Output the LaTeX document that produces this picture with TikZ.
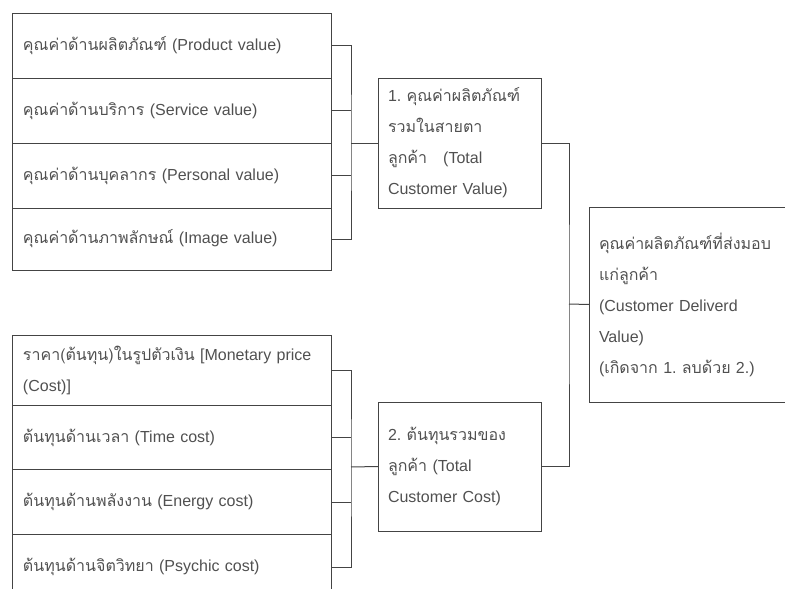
\documentclass[tikz,border=0pt]{standalone}
\usepackage{fontspec}
\setmainfont{Liberation Sans}
\newfontfamily\thaifont[Script=Thai]{Loma}
\newcommand{\thaitx}[1]{{\thaifont #1}}
\usetikzlibrary{positioning}
\definecolor{linegray}{HTML}{444444}
\definecolor{textgray}{HTML}{505050}
\frenchspacing

\begin{document}
\begin{tikzpicture}[x=1pt,y=-1pt,
    every node/.style={font=\fontsize{16}{31}\selectfont, text=textgray, outer sep=0pt},
    row/.style={draw=linegray, line width=1pt, anchor=north west, text width=297pt,
        inner sep=11pt, align=left, minimum height=#1},
    sumbox/.style={draw=linegray, line width=1pt, anchor=north west, align=left,
        inner xsep=10pt, inner ysep=0pt, minimum height=#1},
    link/.style={draw=linegray, line width=1pt}]
    \useasboundingbox (0,0) rectangle (785,589);

    % value side
    \node[row=65pt] (v1) at (12,13) {\thaitx{คุณค่าด้านผลิตภัณฑ์} (Product value)};
    \node[row=65pt, below=0pt of v1] (v2) {\thaitx{คุณค่าด้านบริการ} (Service value)};
    \node[row=65pt, below=0pt of v2] (v3) {\thaitx{คุณค่าด้านบุคลากร} (Personal value)};
    \node[row=62pt, below=0pt of v3] (v4) {\thaitx{คุณค่าด้านภาพลักษณ์} (Image value)};

    % cost side
    \node[row=67pt] (c1) at (12,335) {\thaitx{ราคา(ต้นทุน)ในรูปตัวเงิน} [Monetary price\\(Cost)]};
    \node[row=64pt, below=0pt of c1] (c2) {\thaitx{ต้นทุนด้านเวลา} (Time cost)};
    \node[row=65pt, below=0pt of c2] (c3) {\thaitx{ต้นทุนด้านพลังงาน} (Energy cost)};
    \node[row=65pt, below=0pt of c3] (c4) {\thaitx{ต้นทุนด้านจิตวิทยา} (Psychic cost)};

    \node[sumbox=130pt, minimum width=163pt, text width=143pt] (tv) at (378,78)
        {1. \thaitx{คุณค่าผลิตภัณฑ์}\\\thaitx{รวมในสายตา}\\\thaitx{ลูกค้า}\quad(Total\\Customer Value)};
    \node[sumbox=129pt, minimum width=163pt, text width=143pt] (tc) at (378,402)
        {2. \thaitx{ต้นทุนรวมของ}\\\thaitx{ลูกค้า} (Total\\Customer Cost)};
    \node[sumbox=195pt, minimum width=215pt, text width=195pt] (dv) at (589,207)
        {\thaitx{คุณค่าผลิตภัณฑ์ที่ส่งมอบ}\\\thaitx{แก่ลูกค้า}\\(Customer Deliverd\\Value)\\(\thaitx{เกิดจาก} 1. \thaitx{ลบด้วย} 2.)};

    % brackets
    \coordinate (bv) at (351,143);
    \coordinate (bc) at (351,467);
    \coordinate (bd) at (569,304);
    \foreach \a in {v,c}
    {
        \draw[link] (\a1.east) -| (b\a) |- (\a4.east);
        \draw[link] (\a2.east) -- (\a2.east -| b\a);
        \draw[link] (\a3.east) -- (\a3.east -| b\a);
    }
    \draw[link] (bv) -- (tv.west);
    \draw[link] (bc) -- (tc.west);
    \draw[link] (tv.east) -| (bd) |- (tc.east);
    \draw[link] (bd) -- (dv.west);
\end{tikzpicture}
\end{document}
